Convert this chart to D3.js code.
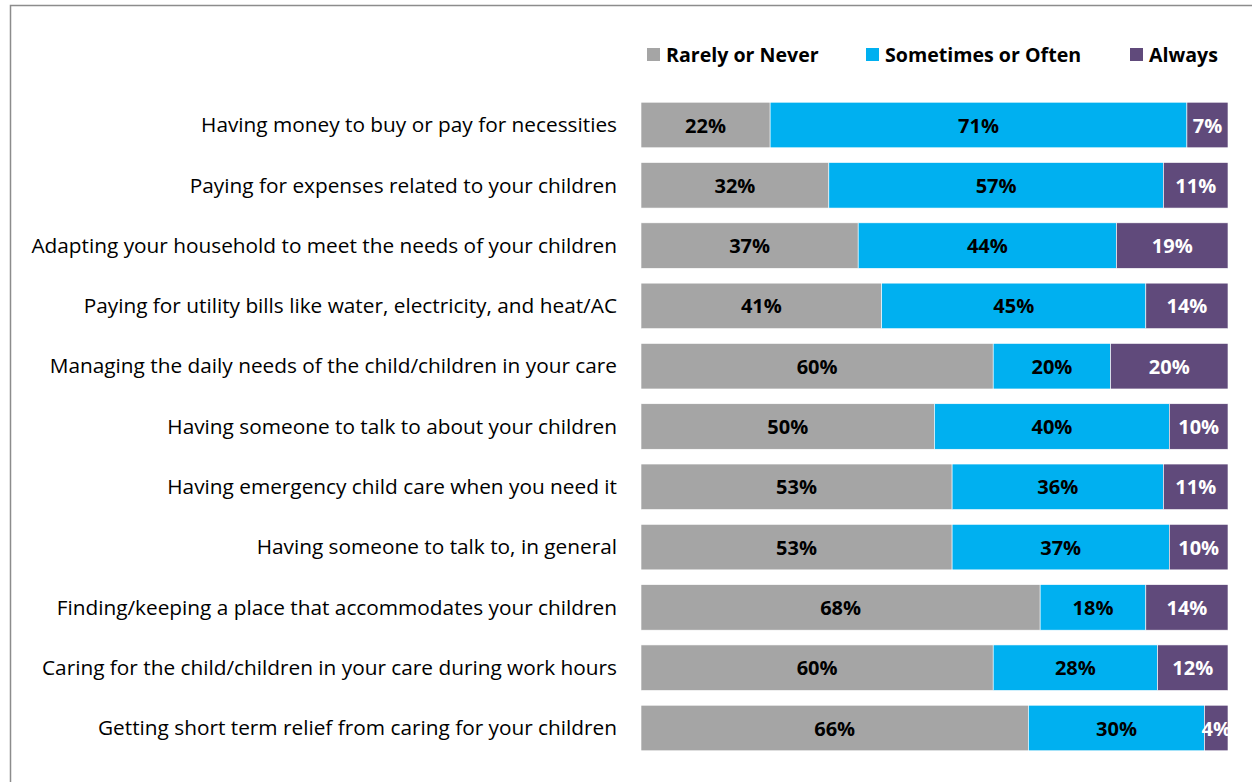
<!DOCTYPE html>
<html>
<head>
<meta charset="utf-8">
<script src="https://cdn.jsdelivr.net/npm/d3@7"></script>
<style>
  html, body { margin: 0; padding: 0; background: #fff; }
  svg { display: block; }
  text { font-family: "Open Sans", Lato, sans-serif; }
</style>
</head>
<body>
<svg id="chart" width="1252" height="782"></svg>
<script>
// Survey items, top to bottom
const categories = [
  "Having money to buy or pay for necessities",
  "Paying for expenses related to your children",
  "Adapting your household to meet the needs of your children",
  "Paying for utility bills like water, electricity, and heat/AC",
  "Managing the daily needs of the child/children in your care",
  "Having someone to talk to about your children",
  "Having emergency child care when you need it",
  "Having someone to talk to, in general",
  "Finding/keeping a place that accommodates your children",
  "Caring for the child/children in your care during work hours",
  "Getting short term relief from caring for your children"
];
const seriesNames = ["Rarely or Never", "Sometimes or Often", "Always"];
const rarelyNever = [22, 32, 37, 41, 60, 50, 53, 53, 68, 60, 66];
const sometimesOften = [71, 57, 44, 45, 20, 40, 36, 37, 18, 28, 30];
const always = [7, 11, 19, 14, 20, 10, 11, 10, 14, 12, 4];

const colors = ["#A5A5A5", "#00B0F0", "#604A7B"];
const labelColors = ["#000", "#000", "#fff"];

const svg = d3.select("#chart");

// frame
svg.append("path")
  .attr("d", "M10.5,782 L10.5,5.5 L1252,5.5")
  .attr("fill", "none")
  .attr("stroke", "#8c8c8c")
  .attr("stroke-width", 1.5);

const rows = categories.map((c, i) => ({
  cat: c,
  "Rarely or Never": rarelyNever[i],
  "Sometimes or Often": sometimesOften[i],
  "Always": always[i]
}));

const stack = d3.stack().keys(seriesNames)(rows);

const x = d3.scaleLinear().domain([0, 100]).range([641, 1228]);
const y = d3.scaleBand().domain(categories).range([95, 758]).paddingInner(0.245).paddingOuter(0.12);

// plot-area clip so labels never run past the bar ends
svg.append("defs").append("clipPath").attr("id", "plot-clip")
  .append("rect")
  .attr("x", x(0)).attr("y", 0)
  .attr("width", x(100) - x(0) + 1).attr("height", 782);

// category labels
svg.append("g")
  .selectAll("text")
  .data(categories)
  .join("text")
  .attr("x", 617)
  .attr("y", d => y(d) + y.bandwidth() / 2)
  .attr("dy", "0.35em")
  .attr("text-anchor", "end")
  .attr("font-size", 20.8)
  .attr("fill", "#000")
  .text(d => d);

// stacked segments
const layers = svg.append("g")
  .selectAll("g")
  .data(stack)
  .join("g")
  .attr("fill", (d, i) => colors[i]);

layers.selectAll("rect")
  .data(d => d)
  .join("rect")
  .attr("x", d => x(d[0]))
  .attr("y", d => y(d.data.cat))
  .attr("width", d => x(d[1]) - x(d[0]))
  .attr("height", y.bandwidth())
  .attr("stroke", "#fff")
  .attr("stroke-width", 0.6);

// value labels
svg.append("g")
  .attr("clip-path", "url(#plot-clip)")
  .selectAll("g")
  .data(stack)
  .join("g")
  .attr("fill", (d, i) => labelColors[i])
  .selectAll("text")
  .data(d => d)
  .join("text")
  .attr("x", d => (x(d[0]) + x(d[1])) / 2)
  .attr("y", d => y(d.data.cat) + y.bandwidth() / 2)
  .attr("dy", "0.38em")
  .attr("text-anchor", "middle")
  .attr("font-size", 20)
  .attr("font-weight", "bold")
  .text(d => (d[1] - d[0]) + "%");

// legend
const legendX = [647, 866, 1130];
const legend = svg.append("g")
  .selectAll("g")
  .data(seriesNames)
  .join("g")
  .attr("transform", (d, i) => `translate(${legendX[i]},48)`);
legend.append("rect")
  .attr("width", 13).attr("height", 13)
  .attr("fill", (d, i) => colors[i]);
legend.append("text")
  .attr("x", 19).attr("y", 6.5).attr("dy", "0.36em")
  .attr("font-size", 19.6)
  .attr("font-weight", "bold")
  .attr("fill", "#000")
  .text(d => d);
</script>
</body>
</html>
